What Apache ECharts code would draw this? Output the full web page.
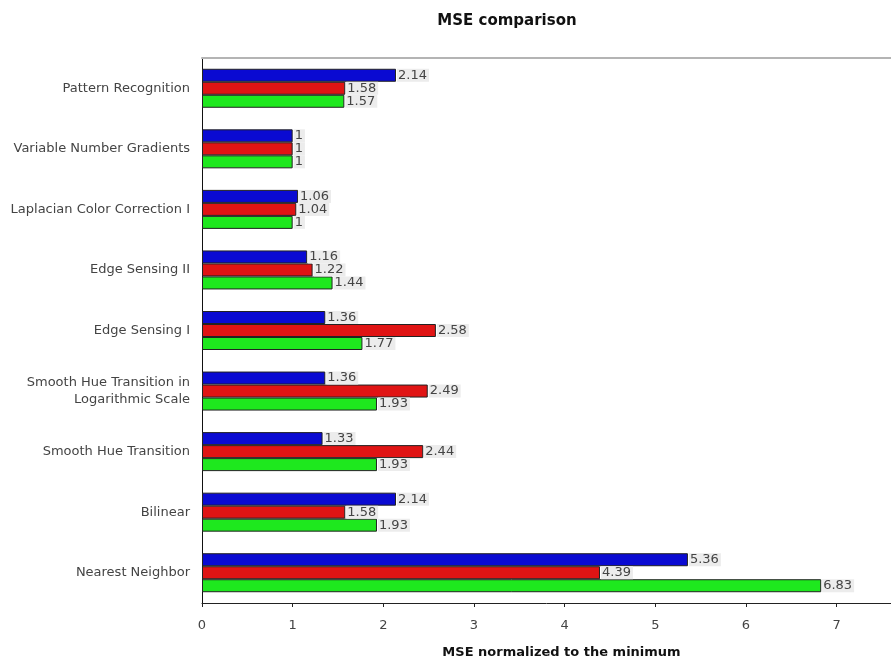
<!DOCTYPE html>
<html>
<head>
<meta charset="utf-8">
<script src="https://cdn.jsdelivr.net/npm/echarts@6/dist/echarts.min.js"></script>
<style>
  html, body { margin: 0; padding: 0; background: #fff; }
  #main { width: 891px; height: 662px; }
</style>
</head>
<body>
<div id="main"></div>
<script>
var categories = [
  'Pattern Recognition',
  'Variable Number Gradients',
  'Laplacian Color Correction I',
  'Edge Sensing II',
  'Edge Sensing I',
  'Smooth Hue Transition in\nLogarithmic Scale',
  'Smooth Hue Transition',
  'Bilinear',
  'Nearest Neighbor'
];
var blueValues  = [2.14, 1, 1.06, 1.16, 1.36, 1.36, 1.33, 2.14, 5.36];
var redValues   = [1.58, 1, 1.04, 1.22, 2.58, 2.49, 2.44, 1.58, 4.39];
var greenValues = [1.57, 1, 1,    1.44, 1.77, 1.93, 1.93, 1.93, 6.83];
var xTicks = [0, 1, 2, 3, 4, 5, 6, 7];

var FONT = 'DejaVu Sans, Verdana, sans-serif';
var myChart = echarts.init(document.getElementById('main'));

function barSeries(name, data, color) {
  return {
    name: name,
    type: 'bar',
    data: data,
    barWidth: 13,
    barGap: '0%',
    itemStyle: { color: color, borderColor: '#222', borderWidth: 1 },
    label: {
      show: true,
      position: 'right',
      distance: 1,
      color: '#444',
      fontFamily: FONT,
      fontSize: 13,
      backgroundColor: '#ececec',
      padding: [0, 2, 0, 1],
      lineHeight: 13
    }
  };
}

var option = {
  animation: false,
  backgroundColor: '#fff',
  title: {
    text: 'MSE comparison',
    left: 502,
    textAlign: 'center',
    top: 9,
    textStyle: { fontSize: 15, fontWeight: 'bold', color: '#111', fontFamily: FONT }
  },
  grid: { left: 202, right: 0, top: 58, bottom: 59, outerBoundsMode: 'none', containLabel: false },
  xAxis: [{
    type: 'value',
    min: 0,
    max: 7.6,
    interval: 1,
    name: 'MSE normalized to the minimum',
    nameLocation: 'middle',
    nameGap: 43,
    nameTextStyle: {
      fontSize: 13, fontWeight: 'bold', color: '#111', fontFamily: FONT,
      padding: [0, 0, 0, 30]
    },
    axisLine: { show: true, lineStyle: { color: '#222' } },
    axisTick: { show: true, length: 4, lineStyle: { color: '#222' } },
    splitLine: { show: false },
    axisLabel: {
      color: '#444', fontSize: 13, margin: 16, fontFamily: FONT,
      formatter: function (v) { return xTicks.indexOf(v) >= 0 ? String(v) : ''; }
    }
  }, {
    type: 'value',
    position: 'top',
    min: 0,
    max: 7.6,
    axisLine: { show: true, lineStyle: { color: '#b4b4b4', width: 2 } },
    axisTick: { show: false },
    axisLabel: { show: false },
    splitLine: { show: false }
  }],
  yAxis: {
    type: 'category',
    data: categories,
    inverse: true,
    axisLine: { show: true, lineStyle: { color: '#111' } },
    axisTick: { show: false },
    axisLabel: {
      color: '#444', fontSize: 13, margin: 12, align: 'right',
      fontFamily: FONT, lineHeight: 17
    }
  },
  series: [
    barSeries('blue', blueValues, '#0a0ad2'),
    barSeries('red', redValues, '#e01414'),
    barSeries('green', greenValues, '#1ee81e')
  ]
};

myChart.setOption(option);
</script>
</body>
</html>
